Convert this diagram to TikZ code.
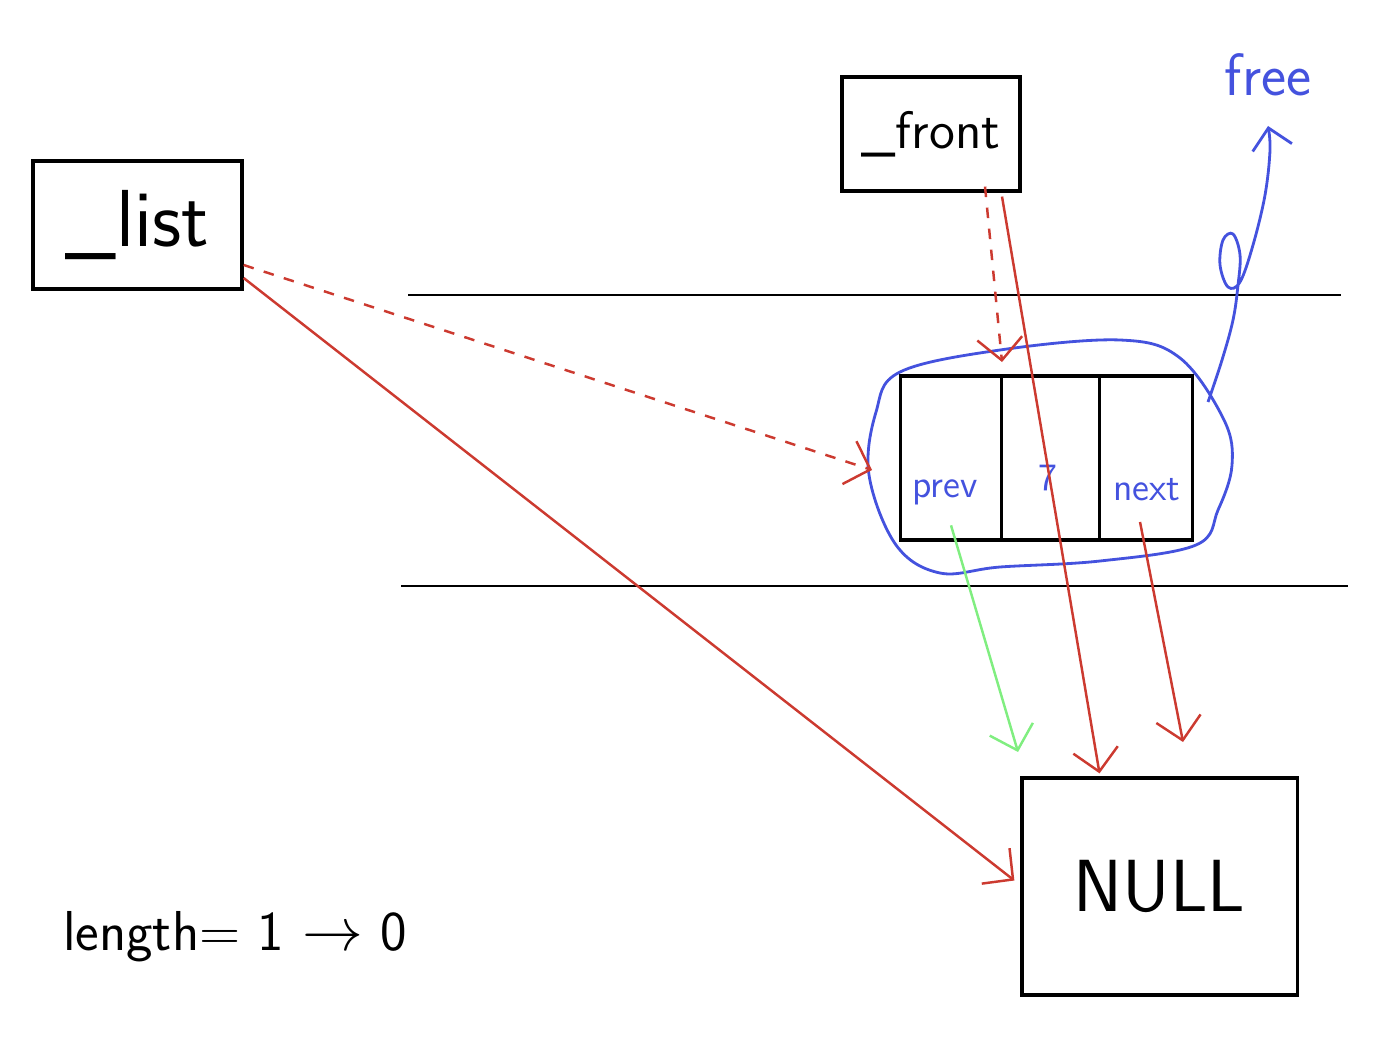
\documentclass[tikz,border=0pt]{standalone}
\usepackage{amsmath,amssymb}
\usepackage{tikz}
\usetikzlibrary{arrows.meta,calc,positioning}
\definecolor{penred}{RGB}{204,58,48}
\definecolor{penblue}{RGB}{68,82,222}
\definecolor{pengreen}{RGB}{128,238,128}
\tikzset{
  box/.style={draw,line width=0.9pt,inner sep=0pt,font=\sffamily},
  cell/.style={draw,line width=0.9pt,inner sep=0pt,minimum height=1.64cm},
  celltext/.style={penblue,inner sep=0pt,font=\sffamily\fontsize{11}{11}\selectfont},
  redarrow/.style={penred,line width=0.7pt,-{Straight Barb[length=2.2mm,width=4.5mm]}},
  reddash/.style={redarrow,dashed},
  greenarrow/.style={pengreen,line width=0.7pt,-{Straight Barb[length=2.2mm,width=4.5mm]}},
  bluepen/.style={penblue,line width=0.8pt},
  rail/.style={line width=0.8pt}
}
\begin{document}
\begin{tikzpicture}[x=0.01cm,y=-0.01cm]
\useasboundingbox (0,0) rectangle (1374,1043);
% boxes
\node[box,minimum width=2.09cm,minimum height=1.28cm] (list) at (137.5,225) {\fontsize{23}{23}\selectfont\_list};
\node[box,minimum width=1.78cm,minimum height=1.14cm] (front) at (931,134) {\fontsize{15}{15}\selectfont\_front};
\node[box,minimum width=2.75cm,minimum height=2.17cm] (null) at (1159.5,886.5) {\fontsize{21}{21}\selectfont NULL};
% rails
\draw[rail] (408,295) -- (1341,295);
\draw[rail] (401,586) -- (1348,586);
% the node
\node[cell,minimum width=1.01cm] (prevcell) at (951,458) {};
\node[cell,minimum width=0.98cm,right=-0.9pt of prevcell] (datacell) {};
\node[cell,minimum width=0.93cm,right=-0.9pt of datacell] (nextcell) {};
\node[celltext] (prevtxt) at (945,492) {prev};
\node[celltext] (datatxt) at (1048,478) {7};
\node[celltext] (nexttxt) at (1147,490) {next};
% circled for free
\draw[bluepen] plot[smooth cycle,tension=0.6] coordinates {(900,372) (1000,350) (1120,340) (1180,358) (1224,420) (1232,465) (1218,510) (1196,545) (1100,561) (1000,567) (940,573) (896,545) (869,475) (876,412)};
\coordinate (loopW) at (872,470);
\coordinate (loopN) at (1002,362);
\draw[bluepen,-{Straight Barb[length=2mm,width=4mm]}] plot[smooth,tension=0.6] coordinates {(1208,402) (1222,360) (1233,320) (1238,285) (1240,255) (1233,234) (1223,240) (1220,265) (1228,287) (1240,282) (1253,245) (1265,195) (1270,150) (1268,126)};
\node[penblue,font=\sffamily\fontsize{17}{17}\selectfont] (freetxt) at (1268,75) {free};
% pointers
\draw[reddash] ($(list.east)+(0,40)$) -- (loopW);
\draw[redarrow] ($(list.east)+(0,53)$) -- ($(null.west)+(-6,-6)$);
\draw[reddash] ($(front.south)+(54,-6)$) -- (loopN);
\draw[redarrow] ($(front.south)+(71,4)$) -- ($(null.north)+(-60,-3)$);
\coordinate (nextend) at (1183,742);
\coordinate (prevend) at (1018,752);
\draw[redarrow] ($(nexttxt.south)+(-7,20)$) -- (nextend);
\draw[greenarrow] ($(prevtxt.south)+(6,20)$) -- (prevend);
% counter
\node[font=\sffamily\fontsize{16}{16}\selectfont] (lentxt) at (235,937) {length= 1 $\rightarrow$ 0};
\end{tikzpicture}
\end{document}
